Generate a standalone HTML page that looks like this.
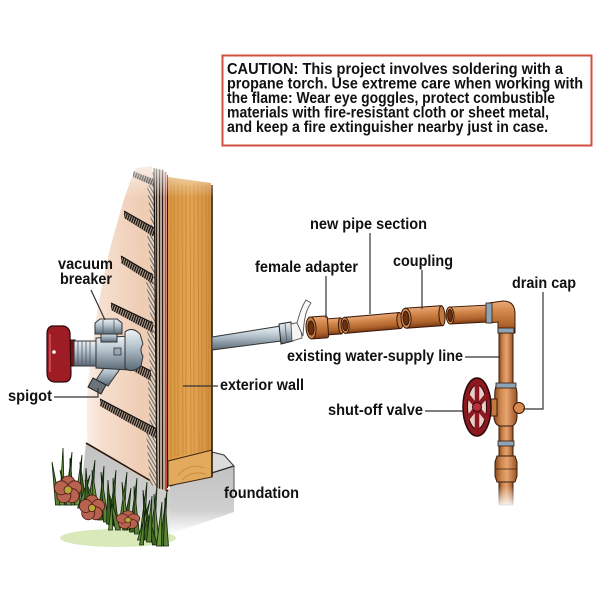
<!DOCTYPE html>
<html><head><meta charset="utf-8"><style>
html,body{margin:0;padding:0;background:#fff;}
svg{display:block}
text{font-family:"Liberation Sans",Arial,sans-serif;font-weight:bold;fill:#111;font-size:16px;}
</style></head><body>
<svg width="600" height="600" viewBox="0 0 600 600" xmlns="http://www.w3.org/2000/svg">
<defs>
 <linearGradient id="sid" x1="70" y1="0" x2="140" y2="0" gradientUnits="userSpaceOnUse">
  <stop offset="0" stop-color="#fff"/><stop offset="0.45" stop-color="#f6dfcf"/><stop offset="1" stop-color="#efcdb5"/>
 </linearGradient>
 <linearGradient id="topfade" x1="0" y1="150" x2="0" y2="198" gradientUnits="userSpaceOnUse">
  <stop offset="0" stop-color="#fff" stop-opacity="1"/><stop offset="1" stop-color="#fff" stop-opacity="0"/>
 </linearGradient>
 <linearGradient id="wood" x1="0" y1="0" x2="1" y2="0">
  <stop offset="0" stop-color="#d8963f"/><stop offset="0.5" stop-color="#e4a552"/><stop offset="1" stop-color="#d48f3c"/>
 </linearGradient>
 <linearGradient id="fnd" x1="0" y1="0" x2="0" y2="1">
  <stop offset="0" stop-color="#c2c2c2"/><stop offset="0.65" stop-color="#cfcfcf"/><stop offset="1" stop-color="#fff"/>
 </linearGradient>
 <linearGradient id="cu" x1="0" y1="0" x2="0" y2="1">
  <stop offset="0" stop-color="#eaa978"/><stop offset="0.35" stop-color="#d08548"/><stop offset="0.75" stop-color="#b0622c"/><stop offset="1" stop-color="#7a3a14"/>
 </linearGradient>
 <linearGradient id="cuV" x1="0" y1="0" x2="1" y2="0">
  <stop offset="0" stop-color="#8a4a1e"/><stop offset="0.3" stop-color="#d08a50"/><stop offset="0.55" stop-color="#e6a470"/><stop offset="1" stop-color="#9a5224"/>
 </linearGradient>
 <linearGradient id="galv" x1="0" y1="0" x2="0" y2="1">
  <stop offset="0" stop-color="#eef2f5"/><stop offset="0.4" stop-color="#b8c6d0"/><stop offset="1" stop-color="#5a6a76"/>
 </linearGradient>
 <linearGradient id="botfade" x1="0" y1="0" x2="0" y2="1">
  <stop offset="0" stop-color="#fff" stop-opacity="0"/><stop offset="1" stop-color="#fff" stop-opacity="1"/>
 </linearGradient>
 <pattern id="hatch" width="3" height="3" patternUnits="userSpaceOnUse">
  <rect width="3" height="3" fill="#b8a898"/><line x1="0.5" y1="0" x2="0.5" y2="3" stroke="#2a1a12" stroke-width="1.1"/>
 </pattern>
 <pattern id="hatchL" width="3" height="4" patternUnits="userSpaceOnUse" patternTransform="rotate(-30)">
  <rect width="3" height="4" fill="#e2d2c2"/><line x1="0.5" y1="0" x2="0.5" y2="4" stroke="#5a4a3e" stroke-width="0.8"/>
 </pattern>
 <pattern id="hatch2" width="2.4" height="3" patternUnits="userSpaceOnUse" patternTransform="rotate(20)">
  <rect width="2.4" height="3" fill="#b09c8c"/><line x1="0.6" y1="0" x2="0.6" y2="3" stroke="#120e0a" stroke-width="1.3"/>
 </pattern>
</defs>

<!-- caution box -->
<rect x="222.5" y="55.5" width="369" height="90" fill="#fff" stroke="#d05040" stroke-width="2"/>
<text x="227" y="74" textLength="336" lengthAdjust="spacingAndGlyphs">CAUTION: This project involves soldering with a</text>
<text x="227" y="88.5" textLength="356" lengthAdjust="spacingAndGlyphs">propane torch. Use extreme care when working with</text>
<text x="227" y="103" textLength="328" lengthAdjust="spacingAndGlyphs">the flame: Wear eye goggles, protect combustible</text>
<text x="227" y="117.5" textLength="322" lengthAdjust="spacingAndGlyphs">materials with fire-resistant cloth or sheet metal,</text>
<text x="227" y="132" textLength="321" lengthAdjust="spacingAndGlyphs">and keep a fire extinguisher nearby just in case.</text>

<!-- foundation -->
<polygon points="86,443 170,490 170,540 80,500" fill="url(#fnd)"/>
<polygon points="170,486 234,466 234,512 170,534" fill="url(#fnd)"/>
<polygon points="212,452 224,455 234,466 212,473" fill="#dcdcdc" stroke="#333" stroke-width="1"/>
<line x1="170" y1="486" x2="234" y2="466" stroke="#333" stroke-width="1.2"/>
<line x1="234" y1="466" x2="234" y2="492" stroke="#555" stroke-width="1"/>

<!-- siding -->
<path d="M136,168 L152,166 L158,488 L166,492 L88,445 Q84,400 92,350 Q100,280 118,220 Q126,190 136,168 Z" fill="url(#sid)"/>
<line x1="86" y1="443" x2="168" y2="491" stroke="#2a1a10" stroke-width="1.6"/>
<!-- board ends (sawtooth strip) -->
<polygon points="152,172 156,172 157,488 150,484 146,432 150,430 148,380 151,377 147,330 152,327 146,282 152,279 147,234 152,232 147,186 152,183" fill="url(#hatchL)"/>
<!-- clapboard shadows -->
<polygon points="133,171 156,180 156,187 133,177" fill="url(#hatch2)"/>
<polygon points="124,211 154,228 154,237 124,218" fill="url(#hatch2)"/>
<polygon points="121,256 153,275 153,284 121,263" fill="url(#hatch2)"/>
<polygon points="111,303 153,323 153,333 111,310" fill="url(#hatch2)"/>
<polygon points="109,350 151,371 151,381 109,357" fill="url(#hatch2)"/>
<polygon points="100,399 157,429 157,439 100,406" fill="url(#hatch2)"/>
<g stroke="#111" stroke-width="1.1">
 <line x1="124" y1="211" x2="154" y2="228"/>
 <line x1="121" y1="256" x2="153" y2="275"/>
 <line x1="111" y1="303" x2="153" y2="323"/>
 <line x1="109" y1="350" x2="151" y2="371"/>
 <line x1="100" y1="399" x2="157" y2="429"/>
</g>
<!-- sheathing -->
<polygon points="154,168 164,170 165,490 157,488" fill="url(#hatch)"/>
<line x1="154" y1="168" x2="157" y2="488" stroke="#111" stroke-width="1.2"/>
<line x1="165.5" y1="172" x2="166" y2="490" stroke="#c0483a" stroke-width="2"/>
<line x1="167.5" y1="175" x2="167.5" y2="488" stroke="#2a1a0a" stroke-width="1"/>

<!-- wood board -->
<polygon points="168,177 211,183 212,450 168,461" fill="url(#wood)"/>
<g stroke="#bd7e32" stroke-width="0.8" opacity="0.8">
 <line x1="171" y1="185" x2="171" y2="458"/><line x1="174" y1="185" x2="175" y2="457"/>
 <line x1="178" y1="185" x2="178" y2="456"/><line x1="182" y1="185" x2="183" y2="455"/>
 <line x1="186" y1="185" x2="186" y2="454"/><line x1="190" y1="185" x2="191" y2="454"/>
 <line x1="194" y1="185" x2="194" y2="453"/><line x1="198" y1="185" x2="199" y2="452"/>
 <line x1="202" y1="185" x2="202" y2="451"/><line x1="206" y1="185" x2="207" y2="450"/>
 <line x1="209" y1="185" x2="209" y2="450"/>
</g>
<polygon points="168,461 212,450 212,477 168,486" fill="#e2aa5c" stroke="#3a2410" stroke-width="1"/>
<path d="M178,475 Q190,462 204,468 M182,480 Q192,470 206,474" fill="none" stroke="#c38536" stroke-width="0.8"/>
<line x1="212" y1="185" x2="212" y2="477" stroke="#2a1a0a" stroke-width="1.6"/>
<rect x="80" y="150" width="140" height="46" fill="url(#topfade)"/>

<!-- ground & grass -->
<ellipse cx="118" cy="538" rx="58" ry="9" fill="#cfe4a8" opacity="0.8"/>
<g stroke="#10240a" stroke-width="0.8">
 <path d="M55.5,505 L52,462 L60.5,505Z" fill="#5a8432"/>
 <path d="M59.5,505 L63,448 L64.5,505Z" fill="#6e9640"/>
 <path d="M64.5,505 L72,452 L69.5,505Z" fill="#3f6424"/>
 <path d="M69.5,505 L70,458 L74.5,505Z" fill="#5a8432"/>
 <path d="M74.5,505 L82,455 L79.5,505Z" fill="#6e9640"/>
 <path d="M81.5,505 L80,462 L86.5,505Z" fill="#3f6424"/>
 <path d="M87.5,508 L95,460 L92.5,508Z" fill="#5a8432"/>
 <path d="M93.5,510 L92,470 L98.5,510Z" fill="#6e9640"/>
 <path d="M97.5,520 L104,466 L102.5,520Z" fill="#3f6424"/>
 <path d="M103.5,522 L101,472 L108.5,522Z" fill="#5a8432"/>
 <path d="M108.5,525 L116,470 L113.5,525Z" fill="#6e9640"/>
 <path d="M113.5,526 L113,478 L118.5,526Z" fill="#3f6424"/>
 <path d="M118.5,528 L127,472 L123.5,528Z" fill="#5a8432"/>
 <path d="M124.5,530 L122,482 L129.5,530Z" fill="#6e9640"/>
 <path d="M129.5,532 L137,478 L134.5,532Z" fill="#3f6424"/>
 <path d="M134.5,534 L134,486 L139.5,534Z" fill="#5a8432"/>
 <path d="M139.5,538 L147,482 L144.5,538Z" fill="#6e9640"/>
 <path d="M144.5,540 L143,490 L149.5,540Z" fill="#3f6424"/>
 <path d="M149.5,542 L157,486 L154.5,542Z" fill="#5a8432"/>
 <path d="M154.5,544 L154,494 L159.5,544Z" fill="#6e9640"/>
 <path d="M159.5,546 L167,490 L164.5,546Z" fill="#3f6424"/>
 <path d="M163.5,546 L165,498 L168.5,546Z" fill="#5a8432"/>
 <path d="M137.5,540 L150,500 L142.5,540Z" fill="#6e9640"/>
 <path d="M115.5,530 L108,490 L120.5,530Z" fill="#5a8432"/>
 <path d="M95.5,515 L85,480 L100.5,515Z" fill="#6e9640"/>
 <path d="M152.5,545 L145,505 L157.5,545Z" fill="#3f6424"/>
 <path d="M77.5,508 L90,475 L82.5,508Z" fill="#5a8432"/>
 <path d="M84.5,510 L86,468 L89.5,510Z" fill="#3f6424"/>
 <path d="M122.5,530 L131,488 L127.5,530Z" fill="#3f6424"/>
 <path d="M146.5,542 L152,496 L151.5,542Z" fill="#5a8432"/>
 <path d="M106.5,524 L108,480 L111.5,524Z" fill="#3f6424"/>
 <path d="M66.5,505 L60,470 L71.5,505Z" fill="#6e9640"/>
 <path d="M156.5,546 L162,502 L161.5,546Z" fill="#6e9640"/>
</g>
<!-- flowers -->
<g stroke="#4a1810" stroke-width="0.8" fill="#b86250">
 <g transform="translate(68,490)">
  <circle cx="0" cy="-7" r="7"/><circle cx="6.7" cy="-2.2" r="7"/><circle cx="4.1" cy="5.7" r="7"/><circle cx="-4.1" cy="5.7" r="7"/><circle cx="-6.7" cy="-2.2" r="7"/>
  <circle r="4" fill="#b8a838"/>
 </g>
 <g transform="translate(92,508)">
  <circle cx="0" cy="-6.5" r="6.5"/><circle cx="6.2" cy="-2" r="6.5"/><circle cx="3.8" cy="5.3" r="6.5"/><circle cx="-3.8" cy="5.3" r="6.5"/><circle cx="-6.2" cy="-2" r="6.5"/>
  <circle r="3.6" fill="#b8a838"/>
 </g>
 <g transform="translate(128,520) scale(1,0.78)">
  <circle cx="0" cy="-6" r="6"/><circle cx="5.7" cy="-1.9" r="6"/><circle cx="3.5" cy="4.9" r="6"/><circle cx="-3.5" cy="4.9" r="6"/><circle cx="-5.7" cy="-1.9" r="6"/>
  <circle r="3.3" fill="#b8a838"/>
 </g>
</g>
<g stroke="#10240a" stroke-width="0.8">
 <path d="M139.5,545 L145,510 L143.5,545Z" fill="#5a8432"/>
 <path d="M108.5,530 L112,500 L112.5,530Z" fill="#6e9640"/>
</g>

<!-- spigot -->
<rect x="67" y="340" width="8" height="26" fill="#7a1018" stroke="#2a0808" stroke-width="1"/>
<path d="M52,326 L64,326 Q70,328 70,334 L71,374 Q71,382 64,382 L54,382 Q47,381 47,373 L47,334 Q47,327 52,326 Z" fill="#9e1d25" stroke="#2a0808" stroke-width="1.2"/>
<path d="M50,334 L50,372" stroke="#c4474f" stroke-width="2"/>
<circle cx="54" cy="352" r="1.8" fill="#fff"/>
<rect x="74" y="341" width="22" height="25" fill="url(#galv)" stroke="#333" stroke-width="1"/>
<g stroke="#556" stroke-width="0.8"><line x1="78" y1="341" x2="78" y2="366"/><line x1="82" y1="341" x2="82" y2="366"/><line x1="86" y1="341" x2="86" y2="366"/><line x1="90" y1="341" x2="90" y2="366"/></g>
<polygon points="108,362 122,366 108,386 96,380" fill="url(#galv)" stroke="#333" stroke-width="1"/>
<polygon points="93,378 106,385 101,394 88,387" fill="#6a747a" stroke="#222" stroke-width="1"/>
<path d="M96,338 L130,336 Q138,340 138,352 Q138,366 130,370 L96,368 Z" fill="url(#galv)" stroke="#333" stroke-width="1"/>
<rect x="114" y="348" width="7" height="7" fill="#9aa8b2" stroke="#333" stroke-width="0.8"/>
<rect x="101" y="332" width="16" height="10" fill="url(#galv)" stroke="#333" stroke-width="1"/>
<polygon points="95,323 100,319 117,319 122,323 122,334 95,334" fill="url(#galv)" stroke="#333" stroke-width="1"/>
<line x1="103" y1="320" x2="103" y2="334" stroke="#555" stroke-width="0.8"/><line x1="114" y1="320" x2="114" y2="334" stroke="#555" stroke-width="0.8"/>
<path d="M125,332 Q132,326 140,334 L143,344 Q139,350 143,356 L141,366 Q132,374 125,368 Z" fill="url(#galv)" stroke="#333" stroke-width="1"/>

<!-- galvanized pipe through wall -->
<polygon points="212,337 281,326 281,341 212,350" fill="url(#galv)" stroke="#333" stroke-width="1"/>
<polygon points="279,324 291,322 293,341 281,344" fill="url(#galv)" stroke="#222" stroke-width="1"/>
<line x1="285" y1="323" x2="287" y2="343" stroke="#556" stroke-width="0.8"/>
<polygon points="291,324 300,322 302,338 292,341" fill="#f4f4f4" stroke="#555" stroke-width="0.9"/>
<path d="M297,323 C300,312 302,306 306,300 L311,303 C306,310 304,318 303,336 Z" fill="#fafafa" stroke="#555" stroke-width="0.9"/>

<!-- female adapter -->
<g transform="rotate(-4 325 327)" stroke="#3a1a08" stroke-width="1">
 <rect x="326" y="319" width="15" height="16" fill="url(#cu)"/>
 <ellipse cx="341" cy="327" rx="2.5" ry="8" fill="#c07a40"/>
 <rect x="311" y="316" width="17" height="22" rx="2" fill="url(#cu)"/>
 <ellipse cx="311" cy="327" rx="5" ry="11" fill="#c8804a"/>
 <ellipse cx="311" cy="327" rx="3" ry="7" fill="#6a3010"/>
</g>
<!-- new pipe section -->
<g transform="rotate(-5 372 323)" stroke="#3a1a08" stroke-width="1">
 <rect x="345" y="315" width="55" height="16" fill="url(#cu)"/>
 <ellipse cx="400" cy="323" rx="3" ry="8" fill="#c07a40"/>
 <ellipse cx="345" cy="323" rx="4" ry="8" fill="#d89058"/>
 <ellipse cx="345" cy="323" rx="2.4" ry="5.5" fill="#6a3010"/>
</g>
<!-- coupling -->
<g transform="rotate(-4 423 317)" stroke="#3a1a08" stroke-width="1">
 <rect x="406" y="307" width="36" height="20" fill="url(#cu)"/>
 <ellipse cx="442" cy="317" rx="3" ry="10" fill="#c07a40"/>
 <ellipse cx="406" cy="317" rx="5" ry="10" fill="#d89058"/>
 <ellipse cx="406" cy="317" rx="3" ry="7" fill="#6a3010"/>
</g>
<!-- existing line -->
<g transform="rotate(-3 470 314)" stroke="#3a1a08" stroke-width="1">
 <rect x="450" y="306" width="42" height="17" fill="url(#cu)"/>
 <ellipse cx="450" cy="314.5" rx="4" ry="8.5" fill="#d89058"/>
 <ellipse cx="450" cy="314.5" rx="2.4" ry="6" fill="#6a3010"/>
</g>
<rect x="499" y="330" width="14" height="175" fill="url(#cuV)" stroke="#3a1a08" stroke-width="1"/>
<path d="M489,303 L503,301 Q515,301 515,314 L515,333 L498,333 L498,322 L489,323 Z" fill="url(#cu)" stroke="#3a1a08" stroke-width="1"/>
<rect x="486" y="303" width="6" height="20" fill="#8aa4b8" stroke="#3a1a08" stroke-width="0.8"/>
<rect x="498" y="328" width="16" height="5" fill="#8aa4b8" stroke="#3a1a08" stroke-width="0.8"/>
<rect x="498" y="420" width="16" height="5" fill="#8aa4b8" stroke="#3a1a08" stroke-width="0.8"/>
<rect x="498" y="441" width="16" height="5" fill="#8aa4b8" stroke="#3a1a08" stroke-width="0.8"/>
<!-- valve -->
<path d="M500,384 L512,384 Q517,386 517,394 L517,416 Q517,424 512,426 L500,426 Q495,425 494,418 L495,400 Q494,392 496,386 Z" fill="url(#cuV)" stroke="#3a1a08" stroke-width="1"/>
<rect x="496" y="383" width="20" height="5" fill="#8aa4b8" stroke="#3a1a08" stroke-width="0.8"/>
<circle cx="519" cy="408" r="5.5" fill="#d88a50" stroke="#3a1a08" stroke-width="1"/>
<rect x="488" y="399" width="9" height="17" fill="#c07a40" stroke="#3a1a08" stroke-width="1"/>
<ellipse cx="477" cy="407" rx="14" ry="29" fill="#8e1820" stroke="#2a0808" stroke-width="1.5"/>
<ellipse cx="477" cy="407" rx="9.5" ry="22" fill="#e8d0c8" stroke="#2a0808" stroke-width="1"/>
<g stroke="#8e1820" stroke-width="4.5" stroke-linecap="round">
 <line x1="477" y1="407" x2="477" y2="384"/><line x1="477" y1="407" x2="477" y2="430"/>
 <line x1="477" y1="407" x2="486" y2="396"/><line x1="477" y1="407" x2="486" y2="418"/>
 <line x1="477" y1="407" x2="468" y2="396"/><line x1="477" y1="407" x2="468" y2="418"/>
</g>
<circle cx="477" cy="407" r="4.5" fill="#b8303a" stroke="#2a0808" stroke-width="1"/>
<polygon points="497,456 515,456 517,462 517,476 515,482 497,482 495,476 495,462" fill="url(#cuV)" stroke="#3a1a08" stroke-width="1"/>
<line x1="495" y1="469" x2="517" y2="469" stroke="#3a1a08" stroke-width="0.8"/>
<rect x="490" y="486" width="32" height="22" fill="url(#botfade)"/>

<!-- leader lines -->
<g stroke="#333" stroke-width="1.2" fill="none">
 <line x1="91" y1="290" x2="105" y2="320"/>
 <polyline points="54,397 98,397 98,388"/>
 <line x1="183" y1="386" x2="218" y2="386"/>
 <line x1="326" y1="276" x2="326" y2="318"/>
 <line x1="370" y1="233" x2="370" y2="314"/>
 <line x1="422" y1="270" x2="422" y2="309"/>
 <polyline points="543,292 543,409 523,409"/>
 <line x1="465" y1="357" x2="500" y2="357"/>
 <line x1="425" y1="411" x2="463" y2="411"/>
</g>

<!-- labels -->
<text x="58" y="269" textLength="55" lengthAdjust="spacingAndGlyphs">vacuum</text>
<text x="60" y="284" textLength="52" lengthAdjust="spacingAndGlyphs">breaker</text>
<text x="8" y="401" textLength="44" lengthAdjust="spacingAndGlyphs">spigot</text>
<text x="220" y="390" textLength="84" lengthAdjust="spacingAndGlyphs">exterior wall</text>
<text x="255" y="272" textLength="103" lengthAdjust="spacingAndGlyphs">female adapter</text>
<text x="310" y="229" textLength="117" lengthAdjust="spacingAndGlyphs">new pipe section</text>
<text x="393" y="266" textLength="60" lengthAdjust="spacingAndGlyphs">coupling</text>
<text x="512" y="288" textLength="64" lengthAdjust="spacingAndGlyphs">drain cap</text>
<text x="287" y="361" textLength="176" lengthAdjust="spacingAndGlyphs">existing water-supply line</text>
<text x="328" y="415" textLength="95" lengthAdjust="spacingAndGlyphs">shut-off valve</text>
<text x="224" y="498" textLength="75" lengthAdjust="spacingAndGlyphs">foundation</text>
</svg>
</body></html>
